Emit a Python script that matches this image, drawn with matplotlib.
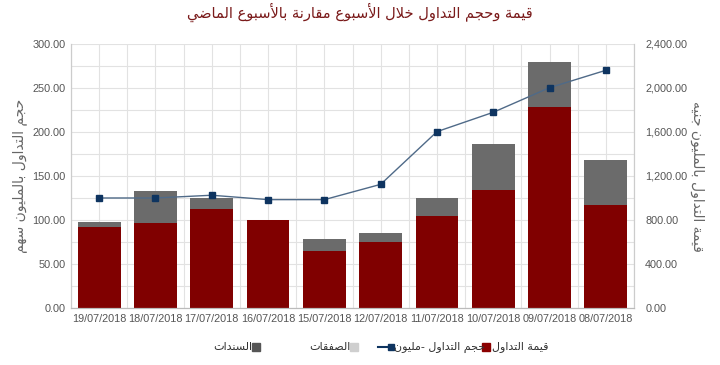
import matplotlib
matplotlib.use("Agg")
import matplotlib.pyplot as plt
import numpy as np
from matplotlib.patches import Rectangle
from matplotlib.lines import Line2D

# data
dates = ["19/07/2018", "18/07/2018", "17/07/2018", "16/07/2018", "15/07/2018",
         "12/07/2018", "11/07/2018", "10/07/2018", "09/07/2018", "08/07/2018"]
volume = [92, 97, 113, 100, 65, 75, 104, 134, 228, 117]      # red bars
bonds = [6, 36, 12, 0, 13, 10, 21, 52, 51, 51]                # gray stacked
value = [1000, 1000, 1025, 985, 985, 1124, 1603, 1779, 2003, 2161]  # line, right axis

title = "قيمة وحجم التداول خلال الأسبوع مقارنة بالأسبوع الماضي"
left_label = "حجم التداول بالمليون سهم"
right_label = "قيمة التداول بالمليون جنيه"
legend_names = ["حجم التداول -مليون", "قيمة التداول", "الصفقات", "السندات"]

# minimal arabic shaping (no arabic_reshaper available)
FORMS = {
    'ا': (0xFE8D, 0xFE8E, None, None), 'أ': (0xFE83, 0xFE84, None, None),
    'ب': (0xFE8F, 0xFE90, 0xFE91, 0xFE92), 'ة': (0xFE93, 0xFE94, None, None),
    'ت': (0xFE95, 0xFE96, 0xFE97, 0xFE98), 'ج': (0xFE9D, 0xFE9E, 0xFE9F, 0xFEA0),
    'ح': (0xFEA1, 0xFEA2, 0xFEA3, 0xFEA4), 'خ': (0xFEA5, 0xFEA6, 0xFEA7, 0xFEA8),
    'د': (0xFEA9, 0xFEAA, None, None), 'ر': (0xFEAD, 0xFEAE, None, None),
    'س': (0xFEB1, 0xFEB2, 0xFEB3, 0xFEB4), 'ص': (0xFEB9, 0xFEBA, 0xFEBB, 0xFEBC),
    'ض': (0xFEBD, 0xFEBE, 0xFEBF, 0xFEC0), 'ع': (0xFEC9, 0xFECA, 0xFECB, 0xFECC),
    'ف': (0xFED1, 0xFED2, 0xFED3, 0xFED4), 'ق': (0xFED5, 0xFED6, 0xFED7, 0xFED8),
    'ل': (0xFEDD, 0xFEDE, 0xFEDF, 0xFEE0), 'م': (0xFEE1, 0xFEE2, 0xFEE3, 0xFEE4),
    'ن': (0xFEE5, 0xFEE6, 0xFEE7, 0xFEE8), 'ه': (0xFEE9, 0xFEEA, 0xFEEB, 0xFEEC),
    'و': (0xFEED, 0xFEEE, None, None), 'ي': (0xFEF1, 0xFEF2, 0xFEF3, 0xFEF4),
}
LAM_ALEF = {'ا': (0xFEFB, 0xFEFC), 'أ': (0xFEF7, 0xFEF8)}


def shape(text):
    chars = list(text)
    out = []
    i = 0
    while i < len(chars):
        c = chars[i]
        prev = chars[i - 1] if i > 0 else None
        joins_prev = prev in FORMS and FORMS[prev][2] is not None
        if c == 'ل' and i + 1 < len(chars) and chars[i + 1] in LAM_ALEF:
            iso, fin = LAM_ALEF[chars[i + 1]]
            out.append(chr(fin if joins_prev else iso))
            i += 2
            continue
        if c not in FORMS:
            out.append(c)
            i += 1
            continue
        iso, fin, ini, med = FORMS[c]
        nxt = chars[i + 1] if i + 1 < len(chars) else None
        joins_next = ini is not None and nxt in FORMS
        if joins_prev and joins_next:
            out.append(chr(med))
        elif joins_prev:
            out.append(chr(fin))
        elif joins_next:
            out.append(chr(ini))
        else:
            out.append(chr(iso))
        i += 1
    return "".join(out)[::-1]


plt.rcParams['font.family'] = ['Liberation Sans', 'DejaVu Sans']

fig = plt.figure(figsize=(7.2, 3.65), dpi=100)
ax = fig.add_axes([0.0986, 0.1562, 0.782, 0.7233])
ax2 = ax.twinx()

x = np.arange(len(dates))
red = "#800000"
gray = "#6b6b6b"
navy = "#0e3460"

ax.bar(x, volume, width=0.76, color=red, zorder=2)
ax.bar(x, bonds, width=0.76, bottom=volume, color=gray, zorder=2)

ax.set_xlim(-0.5, len(dates) - 0.5)
ax.set_ylim(0, 300)
ax.set_yticks(np.arange(0, 301, 50))
ax.set_yticklabels([f"{v:.2f}" for v in np.arange(0, 301, 50)])
ax.set_yticks(np.arange(0, 301, 25), minor=True)
ax.set_xticks(x)
ax.set_xticklabels(dates)
ax.set_xticks(np.arange(-0.5, len(dates), 1), minor=True)
ax.grid(True, which='both', color="#e2e2e2", linewidth=0.8, zorder=0)
ax.set_axisbelow(True)
ax.tick_params(axis='both', which='both', length=0, labelsize=7.8, labelcolor="#555555", pad=4)

ax2.plot(x, value, color="#4f6a88", linewidth=1, marker='s', markersize=4.5,
         markerfacecolor=navy, markeredgecolor=navy, zorder=3)
ax2.set_ylim(0, 2400)
ax2.set_yticks(np.arange(0, 2401, 400))
ax2.set_yticklabels([f"{v:,.2f}" for v in np.arange(0, 2401, 400)])
ax2.tick_params(axis='y', length=0, labelsize=7.8, labelcolor="#555555", pad=8)

for a in (ax, ax2):
    a.spines['top'].set_visible(False)
    a.spines['left'].set_color("#cccccc")
    a.spines['right'].set_color("#cccccc")
    a.spines['bottom'].set_color("#bbbbbb")

ax.set_ylabel(shape(left_label), fontsize=10, color="#666666", labelpad=4,
              family='DejaVu Sans')
ax2.set_ylabel(shape(right_label), fontsize=10, color="#666666", rotation=-90, labelpad=12,
               family='DejaVu Sans')

fig.text(0.5, 0.965, shape(title), ha='center', va='center', fontsize=10.5, color="#7a1a1a",
         family='DejaVu Sans')

# legend drawn by hand to mimic the right-to-left layout
ly = 1 - 347 / 365
fs = 8
tc = "#333333"
fam = 'DejaVu Sans'
fig.text(252 / 720, ly, shape(legend_names[3]), ha='right', va='center', fontsize=fs,
         color=tc, family=fam)
fig.patches.append(Rectangle((252 / 720, ly - 0.011), 8 / 720, 8 / 365, color="#555555",
                             transform=fig.transFigure, figure=fig))
fig.text(350 / 720, ly, shape(legend_names[2]), ha='right', va='center', fontsize=fs,
         color=tc, family=fam)
fig.patches.append(Rectangle((350 / 720, ly - 0.011), 8 / 720, 8 / 365, color="#cfcfcf",
                             transform=fig.transFigure, figure=fig))
fig.lines.append(Line2D([378 / 720, 391 / 720], [ly, ly], color=navy, linewidth=1.5,
                        marker='s', markevery=[1], markersize=4, transform=fig.transFigure))
fig.text(394 / 720, ly, shape(legend_names[0]), ha='left', va='center', fontsize=fs,
         color=tc, family=fam)
fig.patches.append(Rectangle((482 / 720, ly - 0.011), 8 / 720, 8 / 365, color="#8b0000",
                             transform=fig.transFigure, figure=fig))
fig.text(492 / 720, ly, shape(legend_names[1]), ha='left', va='center', fontsize=fs,
         color=tc, family=fam)

plt.savefig("out.png", dpi=100)
